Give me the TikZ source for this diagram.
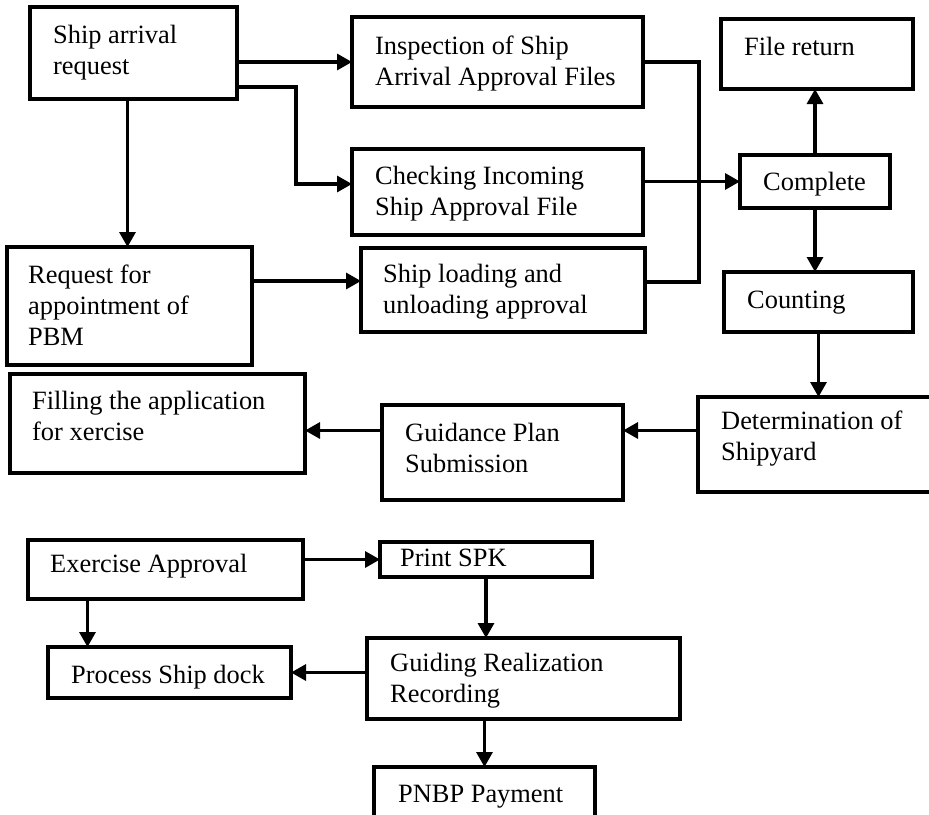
\documentclass[tikz,border=0pt]{standalone}
\usepackage{fontspec}
\setmainfont{Liberation Serif}
\usetikzlibrary{arrows.meta}
\def\procbox(#1)(#2,#3)(#4,#5){\node[box, minimum width={#4-#2}, minimum height={#5-#3}] (#1) at ({(#2+#4)/2},{(#3+#5)/2}) {};}
\tikzset{
	box/.style={draw, line width=3.4pt, inner sep=0pt, outer sep=0pt},
	txt/.style={anchor=base west, align=left, inner sep=0pt, font=\fontsize{26.4pt}{31pt}\selectfont},
	arr/.style={line width=3.2pt, -{Triangle[length=15pt, width=16pt]}},
	wire/.style={line width=3.2pt}
}
\begin{document}
\begin{tikzpicture}[x=1pt, y=-1pt]
			%%%%% START %%%%%
			\useasboundingbox (0,0) rectangle (929,814);
			
			% the base anchor sits on the last line
			\procbox(ship)(30,7)(237,99)
			\node[txt] (ship-t) at (53,74) {Ship arrival\\request};
			
			\procbox(insp)(352,17)(643,107)
			\node[txt] (insp-t) at (375,85) {Inspection of Ship\\Arrival Approval Files};
			
			\procbox(file)(721,19)(913,89)
			\node[txt] (file-t) at (744,55) {File return};
			
			\procbox(check)(352,149)(643,235)
			\node[txt] (check-t) at (375,215) {Checking Incoming\\Ship Approval File};
			
			\procbox(comp)(740,155)(890,208)
			\node[txt] (comp-t) at (763,190) {Complete};
			
			\procbox(req)(7,247)(252,365)
			\node[txt] (req-t) at (28,345) {Request for\\appointment of\\PBM};
			
			\procbox(load)(361,248)(645,332)
			\node[txt] (load-t) at (383,313) {Ship loading and\\unloading approval};
			
			\procbox(count)(724,272)(913,332)
			\node[txt] (count-t) at (747,308) {Counting};
			
			\procbox(fill)(10,374)(305,473)
			\node[txt] (fill-t) at (32,440) {Filling the application\\for xercise};
			
			\procbox(guide)(382,405)(623,500)
			\node[txt] (guide-t) at (405,472) {Guidance Plan\\Submission};
			
			\procbox(det)(698,397)(945,492)
			\node[txt] (det-t) at (721,460) {Determination of\\Shipyard};
			
			\procbox(exer)(28,540)(303,599)
			\node[txt] (exer-t) at (50,572) {Exercise Approval};
			
			\procbox(print)(380,542)(592,577)
			\node[txt] (print-t) at (400,566) {Print SPK};
			
			\procbox(proc)(48,647)(291,698)
			\node[txt] (proc-t) at (71,683) {Process Ship dock};
			
			\procbox(guiding)(367,638)(680,719)
			\node[txt] (guiding-t) at (390,702) {Guiding Realization\\Recording};
			
			\procbox(pnbp)(374,767)(595,830)
			\node[txt] (pnbp-t) at (398,802) {PNBP Payment};
			
			% top part
			\draw[arr] (insp.west -| ship.east) -- (insp.west);
			\draw[arr] ([yshift=-34pt]ship.east) -- ++(59,0) |- ([yshift=8pt]check.west);
			\draw[arr] ([xshift=-6pt]ship.south) -- ([xshift=-6pt]ship.south |- req.north);
			\draw[arr] ([yshift=9pt]load.west -| req.east) -- ([yshift=9pt]load.west);
			\draw[wire] (insp.east) -- ++(56,0) |- ([yshift=8pt]load.east);
			\draw[arr] (comp.west -| check.east) -- (comp.west);
			\draw[arr] (comp.north) -- (comp.north |- file.south);
			\draw[arr] (comp.south) -- (comp.south |- count.north);
			\draw[arr] (count.south) -- (count.south |- det.north);
			\draw[arr] ([yshift=14pt]det.west) -- ([yshift=14pt]det.west -| guide.east);
			\draw[arr] ([yshift=22pt]guide.west) -- ([yshift=22pt]guide.west -| fill.east);
			
			% bottom part
			\draw[arr] (print.west -| exer.east) -- (print.west);
			\draw[arr] ([xshift=-78pt]exer.south) -- ([xshift=-78pt]exer.south |- proc.north);
			\draw[arr] (print.south) -- (print.south |- guiding.north);
			\draw[arr] (proc.east -| guiding.west) -- (proc.east);
			\draw[arr] (pnbp.north |- guiding.south) -- (pnbp.north);
			
			%%%%% END %%%%%
\end{tikzpicture}
\end{document}
